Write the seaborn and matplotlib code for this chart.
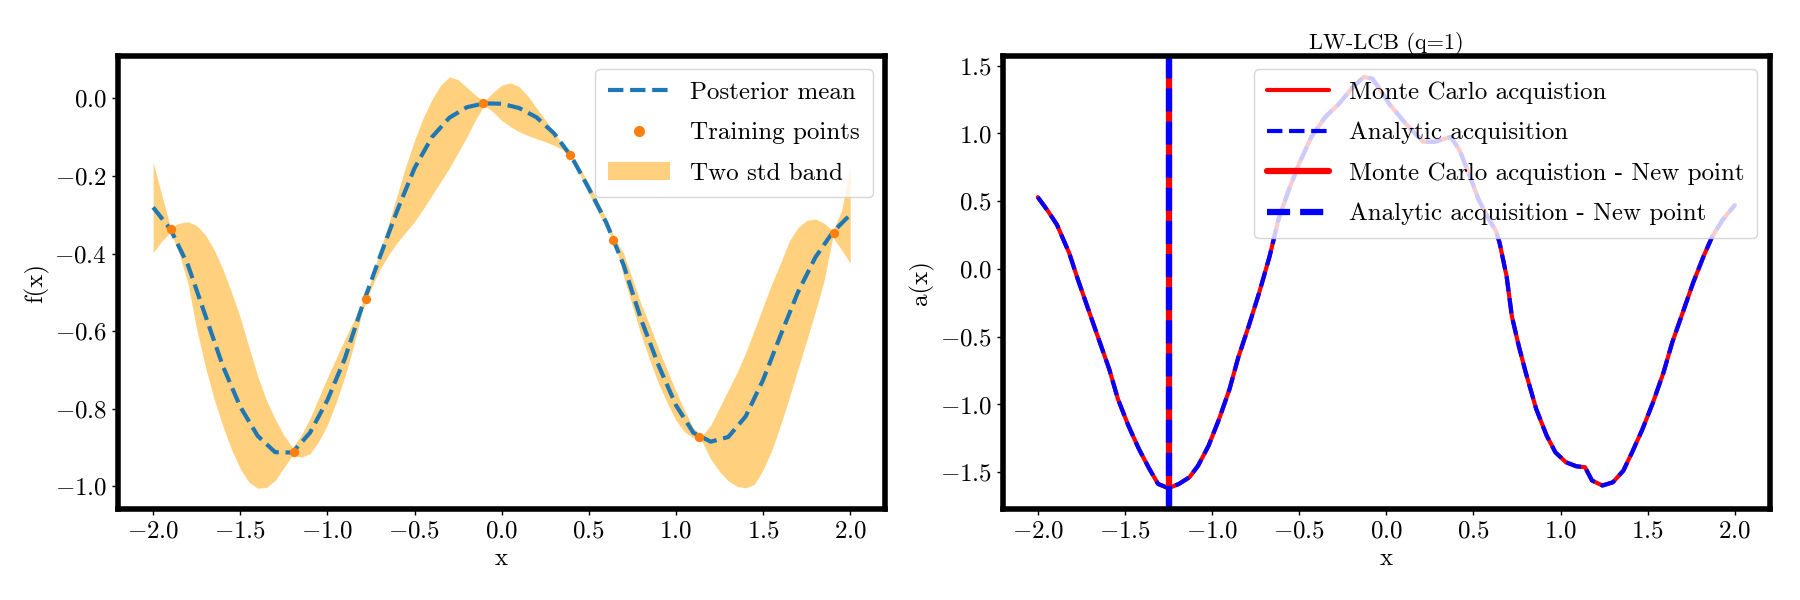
import matplotlib
matplotlib.use("Agg")
import matplotlib.pyplot as plt
import seaborn as sns
from matplotlib.lines import Line2D
from matplotlib.patches import Patch

# ---------------- data: left panel (GP posterior) ----------------
grid_x = [-2.0, -1.9, -1.8, -1.7, -1.6, -1.5, -1.4, -1.3, -1.2, -1.1, -1.0,
          -0.9, -0.8, -0.7, -0.6, -0.5, -0.4, -0.3, -0.2, -0.1, 0.0,
          0.1, 0.2, 0.3, 0.4, 0.5, 0.6, 0.7, 0.8, 0.9, 1.0,
          1.1, 1.2, 1.3, 1.4, 1.5, 1.6, 1.7, 1.8, 1.9, 2.0]
post_mean = [-0.281, -0.338, -0.430, -0.560, -0.690, -0.795, -0.870, -0.912, -0.913, -0.862, -0.778,
             -0.671, -0.535, -0.410, -0.290, -0.180, -0.100, -0.050, -0.023, -0.013, -0.014,
             -0.025, -0.049, -0.090, -0.150, -0.232, -0.320, -0.430, -0.570, -0.688, -0.791,
             -0.862, -0.885, -0.873, -0.820, -0.726, -0.611, -0.500, -0.410, -0.345, -0.300]

band_x = [-2.00, -1.95, -1.90, -1.85, -1.80, -1.75, -1.70, -1.65, -1.60, -1.55,
          -1.50, -1.45, -1.40, -1.35, -1.30, -1.25, -1.20, -1.15, -1.10, -1.05,
          -1.00, -0.95, -0.90, -0.85, -0.80, -0.75, -0.70, -0.65, -0.60, -0.55,
          -0.50, -0.45, -0.40, -0.35, -0.30, -0.25, -0.20, -0.15, -0.10, -0.05,
          0.00, 0.05, 0.10, 0.15, 0.20, 0.25, 0.30, 0.35, 0.40, 0.45,
          0.50, 0.55, 0.60, 0.65, 0.70, 0.75, 0.80, 0.85, 0.90, 0.95,
          1.00, 1.05, 1.10, 1.15, 1.20, 1.25, 1.30, 1.35, 1.40, 1.45,
          1.50, 1.55, 1.60, 1.65, 1.70, 1.75, 1.80, 1.85, 1.90, 1.95, 2.00]
band_upper = [-0.164, -0.250, -0.332, -0.322, -0.318, -0.328, -0.352, -0.390, -0.440, -0.500,
              -0.565, -0.641, -0.716, -0.778, -0.826, -0.868, -0.900, -0.868, -0.825, -0.772,
              -0.720, -0.670, -0.621, -0.575, -0.527, -0.470, -0.395, -0.325, -0.250, -0.175,
              -0.108, -0.050, -0.003, 0.034, 0.055, 0.048, 0.028, 0.008, -0.008, 0.015,
              0.034, 0.040, 0.030, 0.006, -0.025, -0.055, -0.088, -0.118, -0.145, -0.180,
              -0.220, -0.263, -0.310, -0.362, -0.400, -0.465, -0.530, -0.585, -0.645, -0.700,
              -0.755, -0.805, -0.850, -0.870, -0.842, -0.797, -0.752, -0.707, -0.656, -0.597,
              -0.537, -0.478, -0.425, -0.368, -0.333, -0.315, -0.311, -0.322, -0.342, -0.290, -0.177]
band_lower = [-0.398, -0.368, -0.345, -0.400, -0.478, -0.595, -0.692, -0.775, -0.845, -0.905,
              -0.955, -0.990, -1.005, -1.003, -0.985, -0.952, -0.920, -0.925, -0.916, -0.885,
              -0.842, -0.785, -0.718, -0.640, -0.550, -0.492, -0.442, -0.405, -0.372, -0.345,
              -0.318, -0.285, -0.250, -0.215, -0.180, -0.140, -0.100, -0.055, -0.018, -0.035,
              -0.057, -0.073, -0.086, -0.096, -0.104, -0.112, -0.121, -0.133, -0.153, -0.198,
              -0.245, -0.290, -0.335, -0.372, -0.460, -0.535, -0.610, -0.675, -0.735, -0.785,
              -0.830, -0.860, -0.875, -0.885, -0.930, -0.962, -0.986, -1.000, -1.004, -0.995,
              -0.958, -0.907, -0.843, -0.772, -0.698, -0.625, -0.550, -0.470, -0.358, -0.390, -0.425]

train_x = [-1.90, -1.19, -0.78, -0.105, 0.395, 0.64, 1.135, 1.908]
train_y = [-0.338, -0.912, -0.517, -0.013, -0.147, -0.364, -0.873, -0.347]

# ---------------- data: right panel (acquisition) ----------------
acq_x = [-2.00, -1.94, -1.89, -1.82, -1.77, -1.71, -1.65, -1.59, -1.54, -1.48,
         -1.42, -1.36, -1.31, -1.25, -1.19, -1.13, -1.08, -1.02, -0.96, -0.90,
         -0.85, -0.79, -0.73, -0.67, -0.62, -0.56, -0.50, -0.43, -0.35, -0.27,
         -0.20, -0.13, -0.08, -0.02, 0.015, 0.11, 0.21, 0.28, 0.37, 0.42,
         0.48, 0.53, 0.59, 0.63, 0.65, 0.69, 0.72, 0.76, 0.80, 0.86,
         0.92, 0.97, 1.03, 1.09, 1.14, 1.18, 1.24, 1.30, 1.36, 1.41,
         1.47, 1.53, 1.59, 1.64, 1.70, 1.76, 1.82, 1.87, 1.93, 2.00]
acq_mc = [0.530, 0.424, 0.326, 0.118, -0.078, -0.299, -0.520, -0.740, -0.961, -1.157,
          -1.328, -1.475, -1.586, -1.618, -1.586, -1.537, -1.451, -1.304, -1.108, -0.887,
          -0.654, -0.422, -0.176, 0.093, 0.363, 0.583, 0.779, 0.975, 1.123, 1.221,
          1.331, 1.417, 1.404, 1.294, 1.220, 1.074, 0.939, 0.939, 0.975, 0.877,
          0.681, 0.510, 0.363, 0.277, 0.191, -0.054, -0.348, -0.569, -0.765, -1.034,
          -1.230, -1.353, -1.426, -1.456, -1.463, -1.561, -1.598, -1.574, -1.488, -1.353,
          -1.181, -0.985, -0.765, -0.544, -0.324, -0.103, 0.093, 0.240, 0.363, 0.473]
acq_analytic = list(acq_mc)
new_point_x = [-1.25]

# ---------------- style ----------------
sns.set_theme(style="ticks")
plt.rcParams.update({
    "font.family": ["cmr10", "DejaVu Serif"],
    "mathtext.fontset": "cm",
    "axes.formatter.use_mathtext": True,
    "axes.unicode_minus": True,
    "axes.edgecolor": "black",
    "xtick.color": "black",
    "ytick.color": "black",
    "text.color": "black",
    "axes.labelcolor": "black",
    "xtick.major.size": 4.5,
    "ytick.major.size": 4.5,
    "xtick.major.width": 1.0,
    "ytick.major.width": 1.0,
})

fig = plt.figure(figsize=(18, 6), dpi=100)
ax1 = fig.add_axes([0.0657, 0.152, 0.426, 0.754])
ax2 = fig.add_axes([0.5572, 0.152, 0.426, 0.754])

leg_kw = dict(loc="upper right", fontsize=18, handlelength=2.5,
              labelspacing=0.72, borderpad=0.5)

# ---- left panel ----
ax1.fill_between(band_x, band_lower, band_upper, color="orange", alpha=0.5,
                 linewidth=0, zorder=1)
sns.lineplot(x=grid_x, y=post_mean, ax=ax1, color="#1f77b4", linestyle="--",
             linewidth=3, estimator=None, sort=False, zorder=2)
sns.scatterplot(x=train_x, y=train_y, ax=ax1, color="#ff7f0e", s=45,
                linewidth=0, zorder=3)
h1 = [Line2D([], [], color="#1f77b4", linestyle="--", linewidth=3),
      Line2D([], [], color="#ff7f0e", linestyle="", marker="o", markersize=7),
      Patch(facecolor="orange", alpha=0.5, linewidth=0)]
ax1.legend(h1, ["Posterior mean", "Training points", "Two std band"], **leg_kw)
ax1.set_xlabel("x", fontsize=18)
ax1.set_ylabel("f(x)", fontsize=18)

# ---- right panel ----
sns.lineplot(x=acq_x, y=acq_mc, ax=ax2, color="red", linewidth=3,
             estimator=None, sort=False)
sns.lineplot(x=acq_x, y=acq_analytic, ax=ax2, color="blue", linestyle="--",
             linewidth=3, estimator=None, sort=False)
ax2.axvline(new_point_x[0], color="red", linewidth=4.5)
ax2.axvline(new_point_x[0], color="blue", linestyle="--", linewidth=4.5)
h2 = [Line2D([], [], color="red", linewidth=3),
      Line2D([], [], color="blue", linestyle="--", linewidth=3),
      Line2D([], [], color="red", linewidth=4.5),
      Line2D([], [], color="blue", linestyle="--", linewidth=4.5)]
ax2.legend(h2, ["Monte Carlo acquistion", "Analytic acquisition",
                "Monte Carlo acquistion - New point",
                "Analytic acquisition - New point"], **leg_kw)
ax2.set_xlabel("x", fontsize=18)
ax2.set_ylabel("a(x)", fontsize=18)
ax2.set_title("LW-LCB (q=1)", fontsize=16, pad=5)

for ax in (ax1, ax2):
    ax.tick_params(labelsize=18)
    for sp in ax.spines.values():
        sp.set_linewidth(4)
        sp.set_color("black")
        sp.set_visible(True)

fig.savefig("out.png", dpi=100)
